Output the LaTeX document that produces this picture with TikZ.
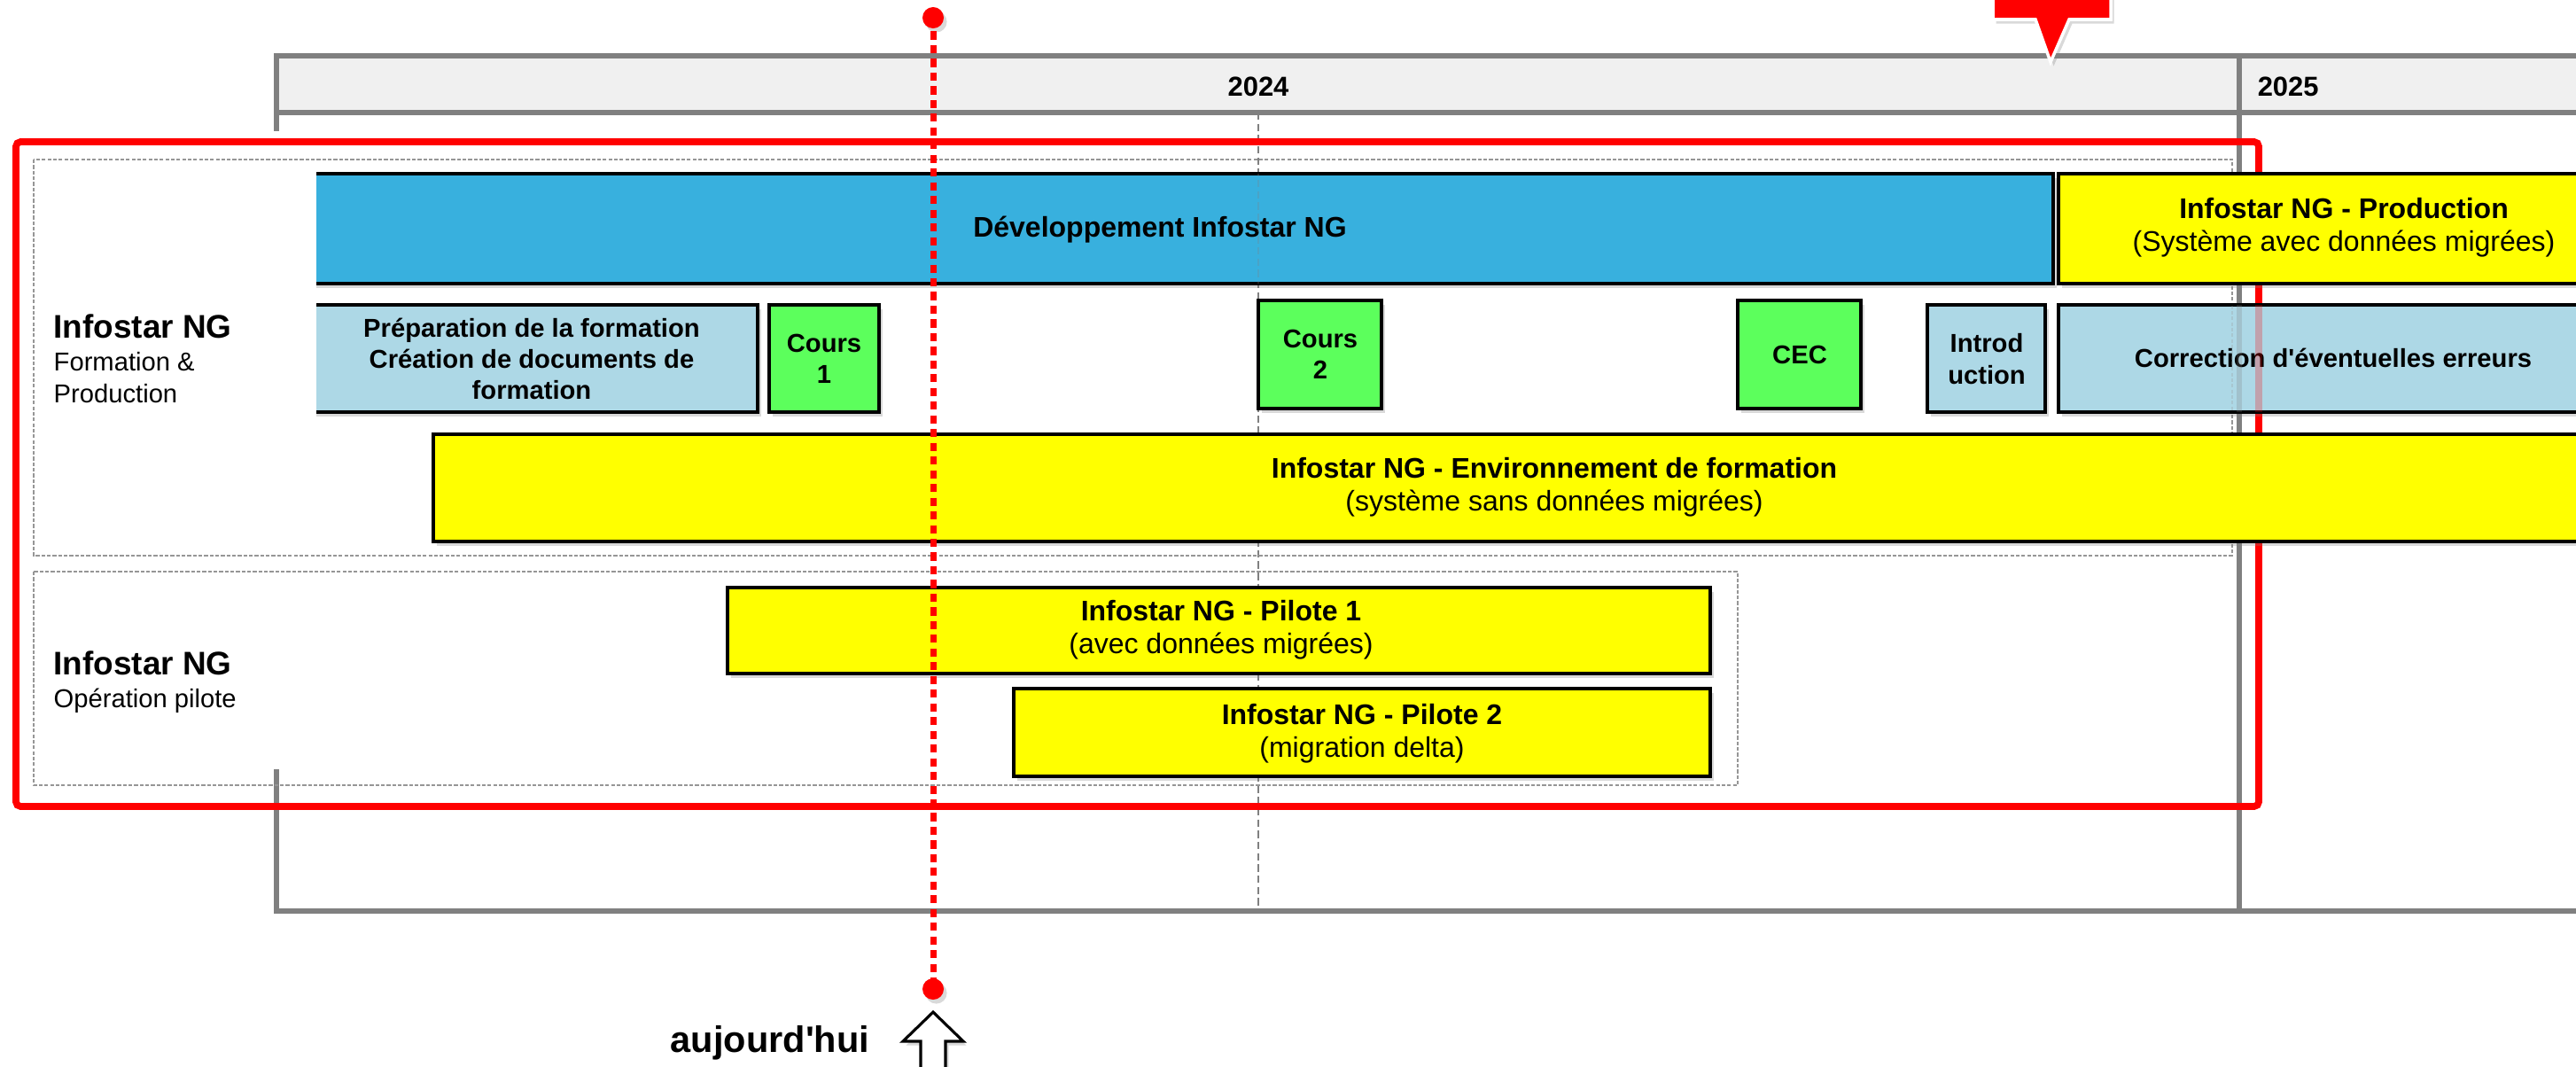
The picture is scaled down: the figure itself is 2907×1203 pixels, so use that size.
\documentclass[tikz,border=0pt]{standalone}
\usepackage{fontspec}
\setmainfont{Liberation Sans}[Ligatures=TeXOff]
\usetikzlibrary{shadows}
\definecolor{devblue}{RGB}{56,176,222}
\definecolor{lblue}{RGB}{173,216,230}
\definecolor{lgreen}{RGB}{92,255,92}
\definecolor{ybar}{RGB}{255,255,0}
\definecolor{hdrgray}{RGB}{240,240,240}
\definecolor{linegray}{RGB}{128,128,128}
\definecolor{grpgray}{RGB}{150,150,150}
\definecolor{redc}{RGB}{255,0,0}
\begin{document}
\begin{tikzpicture}[x=0.01cm,y=-0.01cm,
  shad/.style={drop shadow={opacity=0.3,shadow xshift=1pt,shadow yshift=-1.3pt}},
  bar/.style={draw=black,line width=0.9pt,shad},
  grid/.style={draw=linegray,line width=1.5pt},
  grpbox/.style={draw=grpgray,line width=0.35pt,dash pattern=on 1.2pt off 0.6pt},
  bigtxt/.style={font=\fontsize{9.1}{10.6}\selectfont,align=center,inner sep=0pt},
  smalltxt/.style={font=\bfseries\fontsize{8.3}{10}\selectfont,align=center,inner sep=0pt},
  lbltitle/.style={font=\bfseries\fontsize{10.5}{12}\selectfont,anchor=base west,inner sep=0pt},
  lblsub/.style={font=\fontsize{8.3}{10}\selectfont,anchor=base west,inner sep=0pt},
  yeartxt/.style={font=\bfseries\fontsize{8.8}{10}\selectfont,anchor=base,inner sep=0pt},
  reddot/.style={circle,fill=redc,inner sep=0pt,minimum size=0.24cm},
  todayline/.style={draw=redc,line width=2pt,dash pattern=on 2.6pt off 1.8pt}
]
\useasboundingbox (0,0) rectangle (2907,1203);
\clip (0,0) rectangle (2907,1203);

% timeline frame
\fill[hdrgray] (312,63) rectangle (2920,127);
\draw[grid] (2920,63) -- (312,63) -- (312,148);
\draw[grid] (312,127) -- (2920,127);
\draw[grid] (2527,63) -- (2527,1028);
\draw[grid] (312,868) -- (312,1028) -- (2920,1028);
\draw[draw=linegray,line width=0.5pt,dash pattern=on 2.4pt off 1.2pt] (1420,127) -- (1420,1028);
\node[yeartxt] (y2024) at (1420,108) {2024};
\node[yeartxt,anchor=base west] (y2025) at (2547,108) {2025};

% group boxes
\draw[grpbox] (38,180) rectangle (2519,627);
\draw[grpbox] (38,645) rectangle (1961,886);

% red frame
\draw[redc,line width=2.2pt,rounded corners=1.5pt] (18,160) rectangle (2549,910);

% left labels
\node[lbltitle] (l1a) at (60,381) {Infostar NG};
\node[lblsub] (l1b) at (60,418) {Formation \&};
\node[lblsub] (l1c) at (60,454) {Production};
\node[lbltitle] (l2a) at (60,761) {Infostar NG};
\node[lblsub] (l2b) at (60,798) {Opération pilote};

% bars clipped on the left
\begin{scope}
\clip (357,0) rectangle (2907,1203);
\path[bar,fill=devblue] (300,196) rectangle (2317,320);
\path[bar,fill=lblue] (300,344) rectangle (855,465);
\end{scope}
\node[font=\bfseries\fontsize{9.1}{10.6}\selectfont,inner sep=0pt] (dev) at (1309,259) {Développement Infostar NG};
\node[smalltxt] (prep) at (600,405) {Préparation de la formation\\Création de documents de\\formation};

% other bars
\path[bar,fill=ybar] (2323,196) rectangle (3017,320);
\node[bigtxt] (prod) at (2645,257) {\textbf{Infostar NG - Production}\\(Système avec données migrées)};

\path[bar,fill=lgreen] (868,344) rectangle (992,465);
\node[smalltxt] (c1) at (930,405) {Cours\\1};
\path[bar,fill=lgreen] (1420,339) rectangle (1559,461);
\node[smalltxt] (c2) at (1490,400) {Cours\\2};
\path[bar,fill=lgreen] (1961,339) rectangle (2100,461);
\node[smalltxt] (cec) at (2031,400) {CEC};
\path[bar,fill=lblue] (2175,344) rectangle (2308,465);
\node[smalltxt] (intro) at (2242,405) {Introd\\uction};
\path[bar,fill=lblue] (2323,344) rectangle (2943,465);
\node[smalltxt] (corr) at (2633,404) {Correction d'éventuelles erreurs};

\path[bar,fill=ybar] (489,490) rectangle (3019,611);
\node[bigtxt] (env) at (1754,550) {\textbf{Infostar NG - Environnement de formation}\\(système sans données migrées)};

\path[bar,fill=ybar] (821,663) rectangle (1930,760);
\node[bigtxt] (p1) at (1378,711) {\textbf{Infostar NG - Pilote 1}\\(avec données migrées)};
\path[bar,fill=ybar] (1144,777) rectangle (1930,876);
\node[bigtxt] (p2) at (1537,828) {\textbf{Infostar NG - Pilote 2}\\(migration delta)};

% lines faintly seen through the blue boxes
\begin{scope}[opacity=0.25]
\clip (357,196) rectangle (2317,320) (2323,344) rectangle (2907,465);
\draw[draw=linegray,line width=0.5pt,dash pattern=on 2.4pt off 1.2pt] (1420,127) -- (1420,1028);
\draw[grid] (2527,63) -- (2527,1028);
\draw[redc,line width=2.2pt] (2549,160) -- (2549,910);
\draw[grpbox] (2519,180) -- (2519,627);
\end{scope}

% callout at top
\path[fill=redc,draw=white,line width=1pt,shad]
  (2249,-20) -- (2249,22) -- (2297,22) -- (2314,70) -- (2335,22) -- (2382,22) -- (2382,-20) -- cycle;

% today line
\node[reddot,shad] (topdot) at (1053,20) {};
\node[reddot,shad] (botdot) at (1053,1116) {};
\draw[todayline] (topdot.center) -- (botdot.center);

% arrow and label
\path[fill=white,draw=black,line width=0.9pt,shad]
  (1053,1142) -- (1087,1175) -- (1067,1175) -- (1067,1230) -- (1039,1230) -- (1039,1175) -- (1019,1175) -- cycle;
\node[font=\bfseries\fontsize{11.8}{14}\selectfont,anchor=base,inner sep=0pt] (today) at (869,1187) {aujourd'hui};
\end{tikzpicture}
\end{document}
